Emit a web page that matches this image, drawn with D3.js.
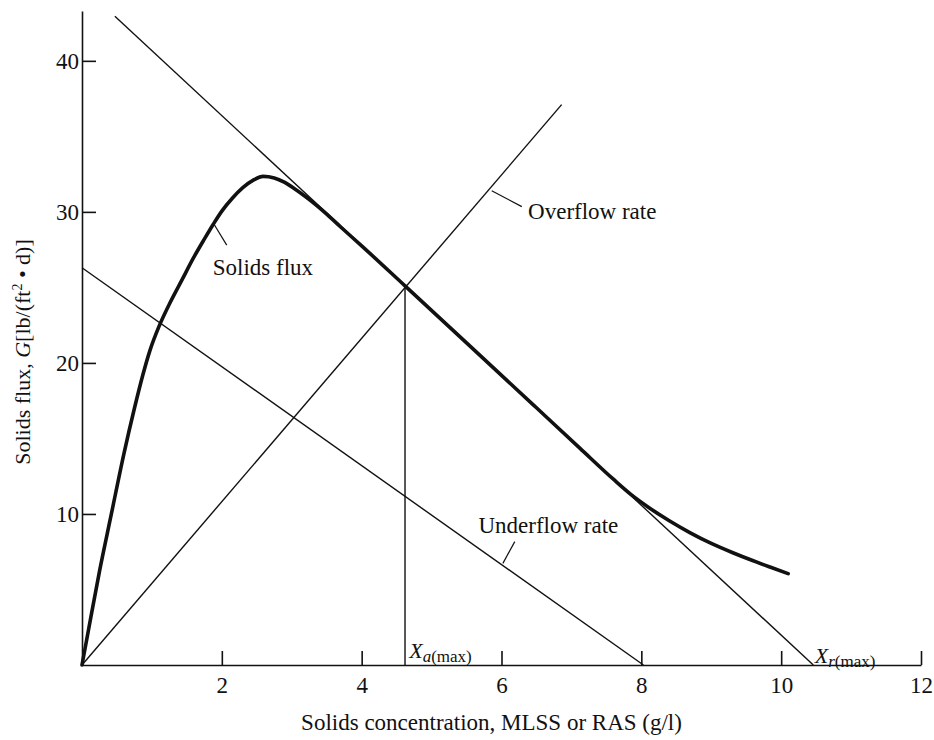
<!DOCTYPE html>
<html>
<head>
<meta charset="utf-8">
<script src="https://cdn.jsdelivr.net/npm/d3@7"></script>
<style>
  html, body { margin: 0; padding: 0; background: #fff; }
  svg { display: block; }
  text { font-family: "Liberation Serif", "Times New Roman", serif; fill: #111; }
</style>
</head>
<body>
<script>
// ---------- data ----------
const fluxX = [0, 0.1, 0.25, 0.42, 0.6, 0.75, 0.87, 0.97, 1.1, 1.25, 1.43, 1.6, 1.75, 1.88, 2.0, 2.15, 2.3, 2.45, 2.59, 2.75, 2.9, 3.05, 3.2, 3.35, 3.5, 3.7, 4.0, 4.62, 5.5, 6.5, 7.12, 7.6, 7.85, 8.1, 8.4, 8.7, 9.0, 9.3, 9.6, 9.85, 10.1];
const fluxY = [0, 2.5, 6.2, 10, 14.0, 17.0, 19.2, 20.8, 22.4, 23.9, 25.5, 27.0, 28.2, 29.2, 30.05, 30.9, 31.6, 32.1, 32.35, 32.25, 31.95, 31.5, 31.0, 30.45, 29.85, 29.0, 27.75, 25.1, 21.33, 17.03, 14.36, 12.3, 11.3, 10.45, 9.55, 8.75, 8.05, 7.45, 6.9, 6.47, 6.05];

const overflowX = [0, 6.86];
const overflowY = [0, 37.1];

const underflowX = [0, 8.03];
const underflowY = [26.3, 0];

const tangentX = [0.47, 10.46];
const tangentY = [42.95, 0];

const xaMax = 4.62;          // limiting concentration X_a(max)
const xaMaxFlux = 25.0;

const xTicks = [2, 4, 6, 8, 10, 12];
const yTicks = [10, 20, 30, 40];

// annotation labels (data coords) and leader lines
const labelText = ["Solids flux", "Overflow rate", "Underflow rate"];
const labelX = [1.87, 6.38, 5.67];
const labelY = [25.8, 29.5, 8.74];
const leaderX1 = [1.88, 5.86, 6.02];
const leaderY1 = [29.25, 31.4, 6.73];
const leaderX2 = [2.07, 6.29, 6.19];
const leaderY2 = [27.8, 30.35, 8.17];

const xDomain = [0, 12];
const yDomain = [0, 43.3];

// ---------- drawing ----------
const W = 934, H = 740;
const svg = d3.select("body").append("svg").attr("width", W).attr("height", H);

const x = d3.scaleLinear().domain(xDomain).range([82, 921]);
const y = d3.scaleLinear().domain(yDomain).range([665, 11]);

const ink = "#111";

// axes
const xAxis = d3.axisBottom(x).tickValues(xTicks).tickSize(-14).tickSizeOuter(0).tickPadding(12);
const gx = svg.append("g").attr("transform", `translate(0,${y(0)})`).call(xAxis);
const yAxis = d3.axisLeft(y).tickValues(yTicks).tickSize(-14).tickSizeOuter(0).tickPadding(3);
const gy = svg.append("g").attr("transform", `translate(${x(0)},0)`).call(yAxis);

[gx, gy].forEach(g => {
  g.select(".domain").attr("stroke", ink).attr("stroke-width", 1.6);
  g.selectAll(".tick line").attr("stroke", ink).attr("stroke-width", 1.6);
  g.selectAll(".tick text").style("font-family", '"Liberation Serif", serif').style("font-size", "23px").attr("fill", ink);
});

const line = d3.line().x(d => x(d[0])).y(d => y(d[1]));

function seg(xs, ys, w) {
  svg.append("path")
    .datum(d3.zip(xs, ys))
    .attr("d", line)
    .attr("fill", "none")
    .attr("stroke", ink)
    .attr("stroke-width", w);
}

seg(overflowX, overflowY, 1.4);
seg(underflowX, underflowY, 1.4);
seg(tangentX, tangentY, 1.4);
seg([xaMax, xaMax], [0, xaMaxFlux], 1.4);

// solids flux curve
svg.append("path")
  .datum(d3.zip(fluxX, fluxY))
  .attr("d", d3.line().x(d => x(d[0])).y(d => y(d[1])).curve(d3.curveMonotoneX))
  .attr("fill", "none")
  .attr("stroke", ink)
  .attr("stroke-width", 3.6)
  .attr("stroke-linecap", "round")
  .attr("stroke-linejoin", "round");

// leader lines + labels
labelText.forEach((t, i) => {
  svg.append("line")
    .attr("x1", x(leaderX1[i])).attr("y1", y(leaderY1[i]))
    .attr("x2", x(leaderX2[i])).attr("y2", y(leaderY2[i]))
    .attr("stroke", ink).attr("stroke-width", 1.2);
  svg.append("text")
    .attr("x", x(labelX[i])).attr("y", y(labelY[i]))
    .style("font-size", "23px")
    .text(t);
});

// X_a(max), X_r(max)
function xLabel(xv, yv, sub) {
  const t = svg.append("text").attr("x", x(xv)).attr("y", y(yv)).style("font-size", "22px");
  t.append("tspan").style("font-style", "italic").text("X");
  t.append("tspan").attr("dy", 4).style("font-size", "17px").style("font-style", "italic").text(sub);
  t.append("tspan").style("font-size", "17px").text("(max)");
}
xLabel(xaMax + 0.06, 0.45, "a");
xLabel(10.48, 0.15, "r");

// axis titles
svg.append("text")
  .attr("x", (x(0) + x(12)) / 2 - 10).attr("y", 730)
  .attr("text-anchor", "middle")
  .style("font-size", "23px")
  .text("Solids concentration, MLSS or RAS (g/l)");

const yt = svg.append("text")
  .attr("transform", "translate(30,352) rotate(-90)")
  .attr("text-anchor", "middle")
  .style("font-size", "22px");
yt.append("tspan").text("Solids flux, ");
yt.append("tspan").style("font-style", "italic").text("G");
yt.append("tspan").text("[lb/(ft");
yt.append("tspan").attr("dy", -8).style("font-size", "14px").text("2");
yt.append("tspan").attr("dy", 8).text(" \u2022 d)]");
</script>
</body>
</html>
